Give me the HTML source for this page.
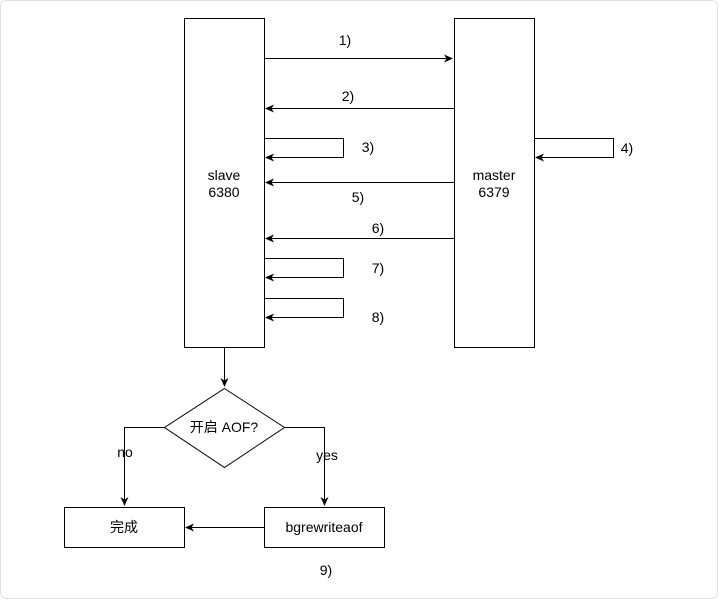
<!DOCTYPE html>
<html><head><meta charset="utf-8"><style>
html,body{margin:0;padding:0;background:#fff;}
svg text{font-family:"Liberation Sans","Noto Sans CJK SC",sans-serif;font-size:14px;fill:#000;}
</style></head><body>
<svg width="719" height="600" viewBox="0 0 719 600" xmlns="http://www.w3.org/2000/svg">
<defs><marker id="a" markerWidth="10" markerHeight="10" refX="8" refY="4" orient="auto" markerUnits="userSpaceOnUse"><path d="M0,0 L9,4 L0,8 L2.5,4 Z" fill="#000"/></marker></defs>
<rect x="0.5" y="0.5" width="717" height="598" rx="6" fill="none" stroke="#e0e0e0"/>
<g fill="none" stroke="#000" stroke-width="1">
<rect x="184.5" y="18.5" width="80" height="329"/>
<rect x="454.5" y="18.5" width="80" height="329"/>
<line x1="264.5" y1="58.5" x2="452" y2="58.5" marker-end="url(#a)"/>
<line x1="454.5" y1="108.5" x2="266" y2="108.5" marker-end="url(#a)"/>
<polyline points="264.5,138.5 343.5,138.5 343.5,157.5 266,157.5" marker-end="url(#a)"/>
<polyline points="534.5,138.5 613.5,138.5 613.5,157.5 536,157.5" marker-end="url(#a)"/>
<line x1="454.5" y1="182.5" x2="266" y2="182.5" marker-end="url(#a)"/>
<line x1="454.5" y1="238.5" x2="266" y2="238.5" marker-end="url(#a)"/>
<polyline points="264.5,258.5 343.5,258.5 343.5,277.5 266,277.5" marker-end="url(#a)"/>
<polyline points="264.5,298.5 343.5,298.5 343.5,317.5 266,317.5" marker-end="url(#a)"/>
<line x1="224.5" y1="347.5" x2="224.5" y2="386" marker-end="url(#a)"/>
<polygon points="224.5,388.5 284.5,427.5 224.5,467.5 164.5,427.5"/>
<polyline points="164.5,427.5 124.5,427.5 124.5,505" marker-end="url(#a)"/>
<polyline points="284.5,427.5 324.5,427.5 324.5,505" marker-end="url(#a)"/>
<rect x="64.5" y="507.5" width="120" height="40"/>
<rect x="264.5" y="507.5" width="120" height="40"/>
<line x1="264.5" y1="527.5" x2="186" y2="527.5" marker-end="url(#a)"/>
</g>
<g text-anchor="middle">
<text x="224" y="180">slave</text><text x="224" y="197">6380</text>
<text x="494" y="180">master</text><text x="494" y="197">6379</text>
<text x="345" y="45">1)</text>
<text x="348" y="101">2)</text>
<text x="368" y="152">3)</text>
<text x="627" y="153">4)</text>
<text x="358" y="202">5)</text>
<text x="378" y="233">6)</text>
<text x="378" y="273">7)</text>
<text x="378" y="322">8)</text>
<text x="326" y="575">9)</text>
<text x="125" y="457">no</text>
<text x="327" y="460">yes</text>
<text x="224" y="432">开启 AOF?</text>
<text x="124" y="532">完成</text>
<text x="324" y="532">bgrewriteaof</text>
</g>
</svg>
</body></html>
